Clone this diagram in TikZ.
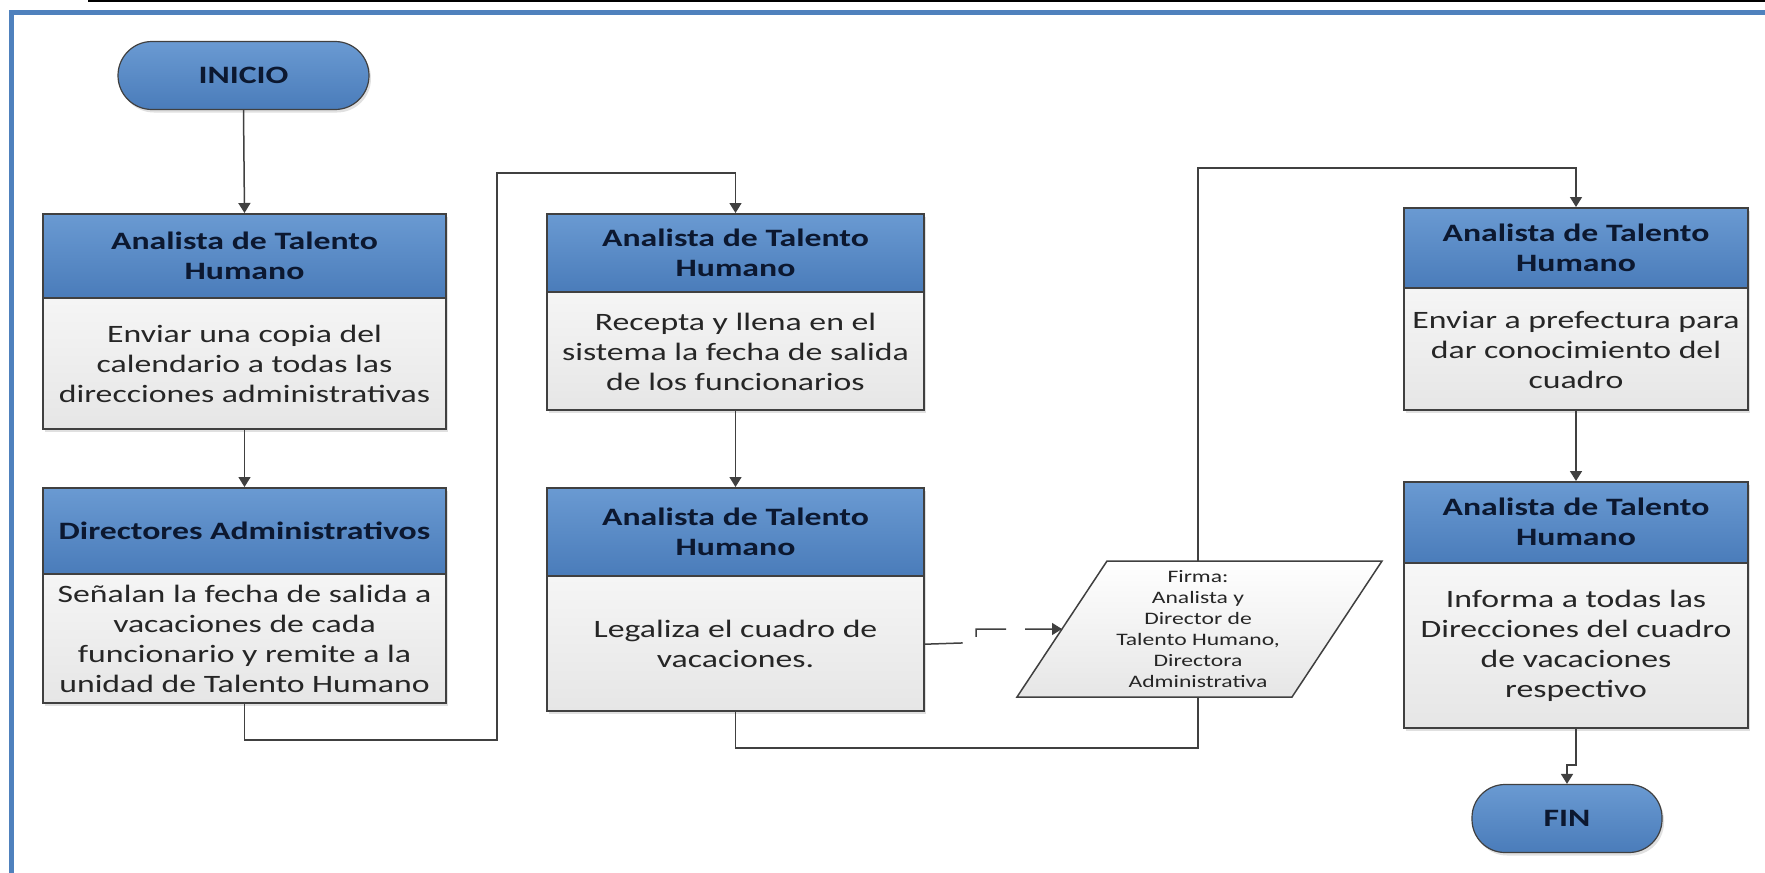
\documentclass[tikz,border=0pt]{standalone}
\usepackage{fontspec}
\setmainfont{Carlito}[FakeStretch=1.35]
\usetikzlibrary{arrows.meta,shadows}

\definecolor{frameblue}{RGB}{79,129,189}
\definecolor{hdrtop}{RGB}{106,154,210}
\definecolor{hdrbot}{RGB}{74,124,186}
\definecolor{edge}{RGB}{64,64,64}
\definecolor{hdrtext}{RGB}{12,24,48}
\definecolor{bodytext}{RGB}{38,38,38}
\definecolor{bodybot}{RGB}{230,230,230}

\newcommand\hdrfont{\fontsize{25}{30}\selectfont\bfseries}
\newcommand\bodyfont{\fontsize{25}{30}\selectfont}
\newcommand\smallfont{\fontsize{17.5}{21}\selectfont}

\tikzset{
  soft/.style={drop shadow={shadow xshift=2pt, shadow yshift=-3pt, fill=black, opacity=0.12}},
  hdr/.style={draw=edge, line width=1.5pt, top color=hdrtop, bottom color=hdrbot,
    text=hdrtext, font=\hdrfont, align=center, inner sep=0pt, anchor=north},
  body/.style={soft, draw=edge, line width=1.5pt, top color=white, bottom color=bodybot,
    text=bodytext, font=\bodyfont, align=center, inner sep=0pt, anchor=north},
  term/.style={soft, draw=edge, line width=1.2pt, top color=hdrtop, bottom color=hdrbot,
    text=hdrtext, font=\hdrfont, inner sep=0pt, minimum height=68pt},
  conn/.style={draw=edge, line width=1.5pt, -{Triangle[width=12pt,length=10pt]}},
  plain/.style={draw=edge, line width=1.5pt},
  dconn/.style={conn, dash pattern=on 38pt off 19pt},
}

\begin{document}
\begin{tikzpicture}[x=1pt, y=-1pt]
\useasboundingbox (0,0) rectangle (1765,873);
\clip (0,0) rectangle (1765,873);
\fill[white] (0,0) rectangle (1765,873);

% page rule and blue frame
\draw[black, line width=2pt] (88,1) -- (1765,1);
\draw[frameblue, line width=5pt] (11,900) -- (11,12) -- (1800,12);

% terminals
\node[term, minimum width=251pt, rounded corners=34pt] (ini) at (243.5,75.5) {INICIO};
\node[term, minimum width=190pt, rounded corners=33pt] (fin) at (1567,818.5) {FIN};

% column 1
\node[body, minimum width=403pt, minimum height=215pt] (s1) at (244.5,213) {};
\node[hdr, minimum width=403pt, minimum height=84pt] (h1) at (244.5,213)
  {Analista de Talento\\Humano};
\node[draw=none, anchor=north, text=bodytext, font=\bodyfont, align=center,
  minimum height=131pt, inner sep=0pt] (b1) at (h1.south)
  {Enviar una copia del\\calendario a todas las\\direcciones administrativas};
\node[body, minimum width=403pt, minimum height=215pt] (s2) at (244.5,487) {};
\node[hdr, minimum width=403pt, minimum height=86pt] (h2) at (244.5,487)
  {Directores Administrativos};
\node[draw=none, anchor=north, text=bodytext, font=\bodyfont, align=center,
  minimum height=129pt, inner sep=0pt] (b2) at (h2.south)
  {Señalan la fecha de salida a\\vacaciones de cada\\funcionario y remite a la\\unidad de Talento Humano};

% column 2
\node[body, minimum width=377pt, minimum height=196pt] (s3) at (735.5,213) {};
\node[hdr, minimum width=377pt, minimum height=78pt] (h3) at (735.5,213)
  {Analista de Talento\\Humano};
\node[draw=none, anchor=north, text=bodytext, font=\bodyfont, align=center,
  minimum height=118pt, inner sep=0pt] (b3) at (h3.south)
  {Recepta y llena en el\\sistema la fecha de salida\\de los funcionarios};
\node[body, minimum width=377pt, minimum height=223pt] (s4) at (735.5,487) {};
\node[hdr, minimum width=377pt, minimum height=88pt] (h4) at (735.5,487)
  {Analista de Talento\\Humano};
\node[draw=none, anchor=north, text=bodytext, font=\bodyfont, align=center,
  minimum height=135pt, inner sep=0pt] (b4) at (h4.south)
  {Legaliza el cuadro de\\vacaciones.};

% signature document
\shade[top color=white, bottom color=bodybot] (1107,561) -- (1382,561) -- (1292,697) -- (1017,697) -- cycle;
\draw[edge, line width=1.5pt] (1107,561) -- (1382,561) -- (1292,697) -- (1017,697) -- cycle;
\node[text=bodytext, font=\smallfont, align=center, inner sep=0pt] (firma) at (1198,629)
  {Firma:\\Analista y\\Director de\\Talento Humano,\\Directora\\Administrativa};
\coordinate (ftop) at (1198,561);
\coordinate (fbot) at (1198,697);
\coordinate (fleft) at (1062,629);

% column 3
\node[body, minimum width=344pt, minimum height=202pt] (s5) at (1576,207) {};
\node[hdr, minimum width=344pt, minimum height=80pt] (h5) at (1576,207)
  {Analista de Talento\\Humano};
\node[draw=none, anchor=north, text=bodytext, font=\bodyfont, align=center,
  minimum height=122pt, inner sep=0pt] (b5) at (h5.south)
  {Enviar a prefectura para\\dar conocimiento del\\cuadro};
\node[body, minimum width=344pt, minimum height=246pt] (s6) at (1576,481) {};
\node[hdr, minimum width=344pt, minimum height=81pt] (h6) at (1576,481)
  {Analista de Talento\\Humano};
\node[draw=none, anchor=north, text=bodytext, font=\bodyfont, align=center,
  minimum height=165pt, inner sep=0pt] (b6) at (h6.south)
  {Informa a todas las\\Direcciones del cuadro\\de vacaciones\\respectivo};

% routing points
\coordinate (k1) at (497,740);
\coordinate (k2) at (497,173);
\coordinate (k3) at (1198,748);
\coordinate (k4) at (1198,168);
\coordinate (k5) at (1576,765);
\coordinate (k6) at (1567,765);
\coordinate (d1) at (976,642.5);
\coordinate (d2) at (976,629);

% connectors
\draw[conn] (ini.south) -- (s1.north);
\draw[conn] (s1.south) -- (s2.north);
\draw[conn] (s2.south) |- (k1) -- (k2) -| (s3.north);
\draw[conn] (s3.south) -- (s4.north);
\draw[dconn] (s4.east |- b4.center) -- (d1) -- (d2) -- (fleft);
\draw[plain] (s4.south) |- (k3) -- (fbot);
\draw[conn] (ftop) -- (k4) -| (s5.north);
\draw[conn] (s5.south) -- (s6.north);
\draw[conn] (s6.south) -- (k5) -- (k6) -- (fin.north);
\end{tikzpicture}
\end{document}
